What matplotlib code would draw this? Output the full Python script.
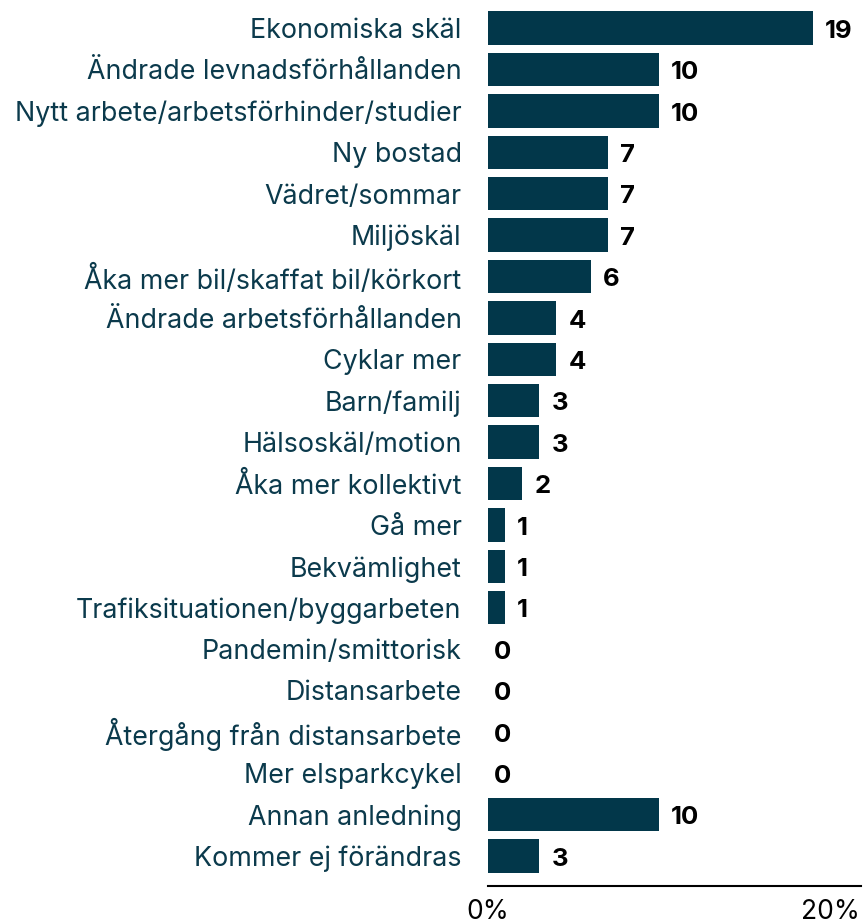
import matplotlib
matplotlib.use("Agg")
import matplotlib.pyplot as plt

# data
categories = [
    "Ekonomiska skäl",
    "Ändrade levnadsförhållanden",
    "Nytt arbete/arbetsförhinder/studier",
    "Ny bostad",
    "Vädret/sommar",
    "Miljöskäl",
    "Åka mer bil/skaffat bil/körkort",
    "Ändrade arbetsförhållanden",
    "Cyklar mer",
    "Barn/familj",
    "Hälsoskäl/motion",
    "Åka mer kollektivt",
    "Gå mer",
    "Bekvämlighet",
    "Trafiksituationen/byggarbeten",
    "Pandemin/smittorisk",
    "Distansarbete",
    "Återgång från distansarbete",
    "Mer elsparkcykel",
    "Annan anledning",
    "Kommer ej förändras",
]
values = [19, 10, 10, 7, 7, 7, 6, 4, 4, 3, 3, 2, 1, 1, 1, 0, 0, 0, 0, 10, 3]
xticks = [0, 20]
xticklabels = ["0%", "20%"]

BAR = "#02374a"
TEXT = "#0b3a4c"

plt.rcParams["font.family"] = ["Inter", "DejaVu Sans"]

fig = plt.figure(figsize=(8.65, 9.23), dpi=100)
ax = fig.add_axes([0.5642, 0.040, 0.4312, 0.952])

ypos = list(range(len(categories)))
ax.barh(ypos, values, height=0.81, color=BAR)

# value labels, zero values sit a bit closer to the axis
for y, v in zip(ypos, values):
    off = 0.7 if v > 0 else 0.35
    ax.text(v + off, y + 0.08, str(v), va="center", ha="left",
            fontsize=18.5, fontweight="bold", color="black")

ax.set_yticks(ypos)
ax.set_yticklabels(categories, fontsize=19.3, color=TEXT)
ax.tick_params(axis="y", length=0, pad=19)
ax.set_xticks(xticks)
ax.set_xticklabels(xticklabels, fontsize=19, color="black")
ax.tick_params(axis="x", length=0, pad=9)

ax.set_xlim(0, 21.8)
ax.set_ylim(20.725, -0.5)

for s in ["top", "right", "left"]:
    ax.spines[s].set_visible(False)
ax.spines["bottom"].set_linewidth(1.5)
ax.spines["bottom"].set_color("black")

fig.savefig("out.png", dpi=100)
